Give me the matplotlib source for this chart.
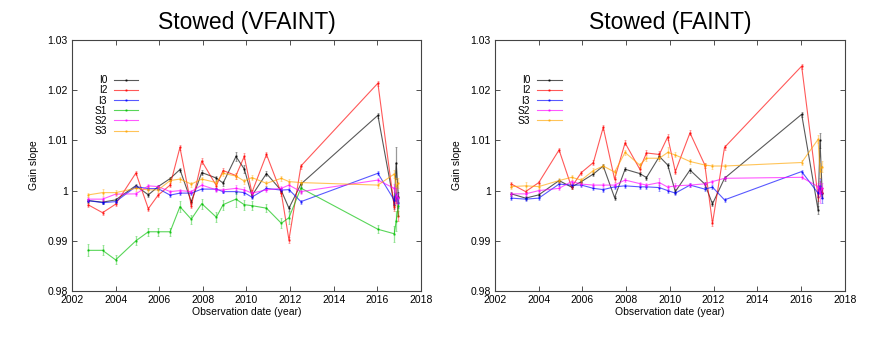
import matplotlib
matplotlib.use("Agg")
import matplotlib.pyplot as plt

plt.rcParams['font.family'] = ['Liberation Sans', 'DejaVu Sans']

# observation dates (years)
dates = [2002.75, 2003.4, 2004.0, 2004.93, 2005.5, 2005.95, 2006.5, 2006.95, 2007.47,
         2007.95, 2008.62, 2008.93, 2009.52, 2009.9, 2010.25, 2010.92, 2011.6, 2011.95,
         2012.5, 2016.03, 2016.78, 2016.87, 2016.97]

# ---- Stowed (VFAINT) gain slopes ----
vf_I0 = [0.9980, 0.9977, 0.99815, 1.0010, 0.99915, 1.0008, 1.0024, 1.0042, 0.9978,
         1.0036, 1.0025, 1.0015, 1.0068, 1.0043, 0.9990, 1.0034, 1.0000, 0.9965,
         1.0013, 1.0150, 0.9972, 1.0055, 0.9988]
vf_I2 = [0.99715, 0.9956, 0.9973, 1.0035, 0.9964, 0.9991, 1.0011, 1.0086, 0.9970,
         1.0059, 1.0010, 1.0040, 1.0030, 1.0068, 0.9996, 1.0072, 0.9995, 0.9902,
         1.0049, 1.0214, 0.9968, 0.9990, 0.9950]
vf_I3 = [0.9980, 0.9976, 0.9978, 1.0008, 1.0004, 1.0004, 0.9991, 0.9995, 0.9995,
         1.0003, 1.0003, 0.9998, 0.9998, 0.9996, 0.9987, 1.00045, 1.0001, 1.0002,
         0.9978, 1.00345, 0.9981, 0.9995, 0.9975]
vf_S1 = [0.9881, 0.9881, 0.9862, 0.9900, 0.9918, 0.9918, 0.9918, 0.9968, 0.9943,
         0.9974, 0.9947, 0.9972, 0.9983, 0.9972, 0.9970, 0.9965, 0.9935, 0.9946,
         1.0005, 0.9923, 0.9914, 0.9940, 0.9970]
vf_S2 = [0.9983, 0.9983, 0.9993, 0.99935, 1.00095, 1.0008, 0.9998, 1.0000, 0.9998,
         1.0011, 1.00015, 1.00015, 1.00045, 1.00015, 0.9995, 1.00015, 1.00045, 1.0011,
         0.9998, 1.0021, 1.00045, 0.9990, 0.9985]
vf_S3 = [0.99915, 0.9996, 0.9996, 1.00045, 1.00015, 1.00015, 1.0020, 1.0023, 1.0013,
         1.0023, 1.0016, 1.00345, 1.0029, 1.0019, 1.0026, 1.00145, 1.00245, 1.0018,
         1.0016, 1.0011, 1.0033, 1.0010, 1.00145]

vf_err_I0 = [0.0004, 0.0004, 0.0004, 0.0004, 0.0004, 0.0004, 0.0004, 0.0004, 0.0004,
             0.0005, 0.0005, 0.0005, 0.0009, 0.0008, 0.0005, 0.0005, 0.0005, 0.0005,
             0.0005, 0.0005, 0.0008, 0.0032, 0.0010]
vf_err_I2 = [0.0004, 0.0004, 0.0004, 0.0004, 0.0004, 0.0004, 0.0004, 0.0005, 0.0005,
             0.0005, 0.0005, 0.0005, 0.0006, 0.0006, 0.0005, 0.0005, 0.0005, 0.0006,
             0.0005, 0.0005, 0.0008, 0.0015, 0.0010]
vf_err_I3 = [0.0003, 0.0003, 0.0003, 0.0003, 0.0003, 0.0003, 0.0003, 0.0003, 0.0003,
             0.0003, 0.0003, 0.0003, 0.0004, 0.0004, 0.0004, 0.0004, 0.0004, 0.0004,
             0.0004, 0.0004, 0.0008, 0.0015, 0.0010]
vf_err_S1 = [0.0012, 0.0010, 0.0009, 0.0009, 0.0008, 0.0008, 0.0008, 0.0011, 0.0009,
             0.0010, 0.0010, 0.0010, 0.0015, 0.0010, 0.0009, 0.0008, 0.0010, 0.0012,
             0.0010, 0.0008, 0.0016, 0.0020, 0.0020]
vf_err_S2 = [0.0004, 0.0004, 0.0004, 0.0004, 0.0004, 0.0004, 0.0004, 0.0004, 0.0004,
             0.0004, 0.0004, 0.0004, 0.0006, 0.0005, 0.0005, 0.0004, 0.0004, 0.0004,
             0.0004, 0.0004, 0.0008, 0.0015, 0.0010]
vf_err_S3 = [0.0004, 0.0007, 0.0005, 0.0005, 0.0005, 0.0005, 0.0005, 0.0005, 0.0005,
             0.0005, 0.0005, 0.0005, 0.0006, 0.0005, 0.0005, 0.0005, 0.0005, 0.0005,
             0.0005, 0.0005, 0.0008, 0.0015, 0.0010]

# ---- Stowed (FAINT) gain slopes ----
f_I0 = [0.99935, 0.9985, 0.99915, 1.0020, 1.0007, 1.0018, 1.0033, 1.0049, 0.9986,
        1.00425, 1.0034, 1.0026, 1.0068, 1.0051, 0.9998, 1.0041, 1.0013, 0.99735,
        1.00245, 1.0152, 0.9962, 1.0100, 0.9995]
f_I2 = [1.0013, 0.9998, 1.0016, 1.0081, 1.0007, 1.0036, 1.0056, 1.0126, 1.0023,
        1.0095, 1.0043, 1.0075, 1.0072, 1.0107, 1.0038, 1.0115, 1.0051, 0.9935,
        1.0086, 1.0248, 0.9988, 1.0005, 0.9995]
f_I3 = [0.9985, 0.9983, 0.9985, 1.0013, 1.0011, 1.0011, 1.00045, 1.0002, 1.00075,
        1.00095, 1.00075, 1.00075, 1.0006, 1.0000, 0.9995, 1.0011, 1.0003, 1.0007,
        0.99815, 1.0038, 0.9995, 1.0010, 0.9985]
f_S2 = [0.99935, 0.99935, 1.0000, 1.00045, 1.0018, 1.0013, 1.0011, 1.0011, 1.0011,
        1.0021, 1.0014, 1.0011, 1.0016, 1.0007, 1.00095, 1.0011, 1.00135, 1.0018,
        1.00245, 1.00265, 1.0008, 0.9995, 1.0005]
f_S3 = [1.0008, 1.00095, 1.0008, 1.0020, 1.00265, 1.0021, 1.0040, 1.0049, 1.0037,
        1.0076, 1.0051, 1.00645, 1.00645, 1.0076, 1.0071, 1.0058, 1.0051, 1.0049,
        1.0049, 1.0056, 1.0102, 1.0040, 1.0048]

f_err_I0 = [0.0004, 0.0004, 0.0004, 0.0004, 0.0004, 0.0004, 0.0004, 0.0004, 0.0004,
            0.0004, 0.0004, 0.0004, 0.0006, 0.0005, 0.0005, 0.0005, 0.0005, 0.0005,
            0.0005, 0.0005, 0.0008, 0.0015, 0.0010]
f_err_I2 = [0.0005, 0.0004, 0.0004, 0.0004, 0.0004, 0.0004, 0.0004, 0.0005, 0.0005,
            0.0005, 0.0005, 0.0005, 0.0006, 0.0006, 0.0005, 0.0005, 0.0005, 0.0006,
            0.0005, 0.0005, 0.0008, 0.0015, 0.0010]
f_err_I3 = [0.0004, 0.0004, 0.0004, 0.0004, 0.0004, 0.0004, 0.0004, 0.0004, 0.0004,
            0.0004, 0.0004, 0.0004, 0.0006, 0.0004, 0.0004, 0.0004, 0.0004, 0.0004,
            0.0004, 0.0004, 0.0008, 0.0015, 0.0010]
f_err_S2 = [0.0004, 0.0004, 0.0004, 0.0004, 0.0004, 0.0004, 0.0004, 0.0004, 0.0004,
            0.0004, 0.0004, 0.0004, 0.0009, 0.0005, 0.0005, 0.0004, 0.0004, 0.0004,
            0.0004, 0.0004, 0.0008, 0.0020, 0.0010]
f_err_S3 = [0.0005, 0.0007, 0.0005, 0.0005, 0.0005, 0.0005, 0.0005, 0.0005, 0.0005,
            0.0005, 0.0005, 0.0005, 0.0006, 0.0010, 0.0005, 0.0005, 0.0005, 0.0005,
            0.0005, 0.0005, 0.0008, 0.0015, 0.0010]

colors = {'I0': '#000000', 'I2': '#ff0000', 'I3': '#0000ff',
          'S1': '#00c000', 'S2': '#ff00ff', 'S3': '#ffa500'}

xticks = [2002, 2004, 2006, 2008, 2010, 2012, 2014, 2016, 2018]
yticks = [0.98, 0.99, 1.0, 1.01, 1.02, 1.03]
ytick_labels = ['0.98', '0.99', '1', '1.01', '1.02', '1.03']

panels = [
    ("Stowed (VFAINT)",
     [('I0', vf_I0, vf_err_I0), ('I2', vf_I2, vf_err_I2), ('I3', vf_I3, vf_err_I3),
      ('S1', vf_S1, vf_err_S1), ('S2', vf_S2, vf_err_S2), ('S3', vf_S3, vf_err_S3)]),
    ("Stowed (FAINT)",
     [('I0', f_I0, f_err_I0), ('I2', f_I2, f_err_I2), ('I3', f_I3, f_err_I3),
      ('S2', f_S2, f_err_S2), ('S3', f_S3, f_err_S3)]),
]

fig = plt.figure(figsize=(8.72, 3.5), dpi=100)
rects = [[0.0826, 0.1686, 0.400, 0.717], [0.5677, 0.1686, 0.401, 0.717]]

for rect, (title, series) in zip(rects, panels):
    ax = fig.add_axes(rect)
    handles = []
    for name, vals, errs in series:
        c = colors[name]
        ax.errorbar(dates, vals, yerr=errs, fmt='none', ecolor=c, alpha=0.4,
                    elinewidth=0.9, capsize=1.0, capthick=0.5)
        ln, = ax.plot(dates, vals, color=c, lw=0.8, alpha=0.65,
                      marker='.', markersize=1.5, label=name)
        handles.append(ln)
    ax.set_xlim(2002, 2018)
    ax.set_ylim(0.98, 1.03)
    ax.set_xticks(xticks)
    ax.set_xticklabels([str(x) for x in xticks])
    ax.set_yticks(yticks)
    ax.set_yticklabels(ytick_labels)
    ax.tick_params(direction='in', top=True, right=True, length=3.5, width=0.6,
                   labelsize=7.5, pad=3, colors='#333333', labelcolor='black')
    for s in ax.spines.values():
        s.set_linewidth(0.8)
        s.set_color('#444444')
    ax.set_xlabel("Observation date (year)", fontsize=7.5, labelpad=1)
    ax.set_ylabel("Gain slope", fontsize=7.5, labelpad=6)
    ax.set_title(title, fontsize=16.5, pad=8)
    ax.legend(handles=handles, loc='upper left', bbox_to_anchor=(0.05, 0.88),
              frameon=False, fontsize=7.3, markerfirst=False, handlelength=2.4,
              numpoints=1, labelspacing=0.02, handletextpad=0.7, borderpad=0.0)

fig.savefig("out.png", dpi=100)
